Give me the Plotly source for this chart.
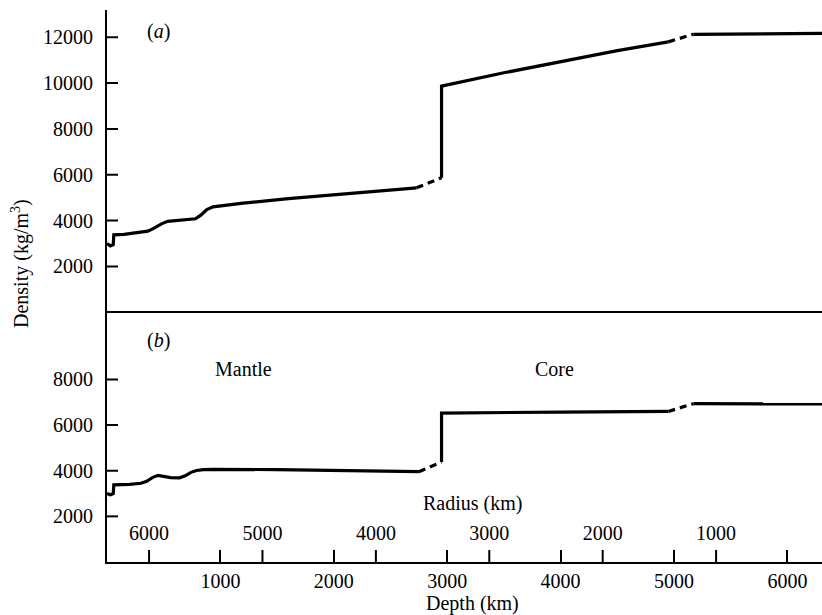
import plotly.graph_objects as go

# ---------------- data ----------------
# Panel (a)
a_mantle_depth = [0, 30, 55, 60, 150, 300, 360, 420, 480, 535, 650, 780, 830, 880, 935, 1200, 1600, 2000, 2400, 2730]
a_mantle_rho   = [3000, 2900, 2950, 3380, 3400, 3480, 3540, 3680, 3860, 3970, 4030, 4080, 4250, 4480, 4600, 4760, 4960, 5130, 5300, 5430]
a_trans1_depth = [2730, 2950]
a_trans1_rho   = [5430, 5870]
a_core_depth   = [2950, 2950, 3500, 4000, 4500, 4950]
a_core_rho     = [5870, 9870, 10450, 10950, 11420, 11800]
a_trans2_depth = [4950, 5170]
a_trans2_rho   = [11800, 12130]
a_inner_depth  = [5170, 6371]
a_inner_rho    = [12130, 12170]

# Panel (b)
b_mantle_depth = [0, 30, 55, 60, 200, 300, 350, 400, 450, 500, 560, 640, 690, 740, 790, 850, 950, 1500, 2000, 2400, 2750]
b_mantle_rho   = [3000, 2950, 3000, 3380, 3400, 3450, 3540, 3700, 3800, 3770, 3700, 3690, 3780, 3930, 4010, 4050, 4060, 4050, 4020, 3990, 3960]
b_trans1_depth = [2750, 2950]
b_trans1_rho   = [3960, 4380]
b_core_depth   = [2950, 2950, 4000, 4950]
b_core_rho     = [4380, 6530, 6570, 6600]
b_trans2_depth = [4950, 5170]
b_trans2_rho   = [6600, 6940]
b_inner_depth  = [5170, 6371]
b_inner_rho    = [6940, 6930]

depth_ticks = [1000, 2000, 3000, 4000, 5000, 6000]
radius_ticks = [6000, 5000, 4000, 3000, 2000, 1000]
earth_radius = 6371
rho_ticks_a = [2000, 4000, 6000, 8000, 10000, 12000]
rho_ticks_b = [2000, 4000, 6000, 8000]

FONT = "Liberation Serif"
X_RANGE = [0, 6305]
YA_RANGE = [44, 13190]
YB_RANGE = [0, 10990]
PLOT_W = 715.0
PLOT_H = 552.0

fig = go.Figure()

def seg(x, y, xa, ya, dash=None):
    fig.add_trace(go.Scatter(
        x=x, y=y, mode="lines", xaxis=xa, yaxis=ya, showlegend=False,
        hoverinfo="skip",
        line=dict(color="black", width=3.2, dash=dash if dash else "solid"),
    ))

DASH = "7px,5px"
seg(a_mantle_depth, a_mantle_rho, "x", "y")
seg(a_trans1_depth, a_trans1_rho, "x", "y", DASH)
seg(a_core_depth, a_core_rho, "x", "y")
seg(a_trans2_depth, a_trans2_rho, "x", "y", DASH)
seg(a_inner_depth, a_inner_rho, "x", "y")

seg(b_mantle_depth, b_mantle_rho, "x2", "y2")
seg(b_trans1_depth, b_trans1_rho, "x2", "y2", DASH)
seg(b_core_depth, b_core_rho, "x2", "y2")
seg(b_trans2_depth, b_trans2_rho, "x2", "y2", DASH)
seg(b_inner_depth, b_inner_rho, "x2", "y2")

# radius scale (labels) carried by an overlay axis
radius_depths = [earth_radius - r for r in radius_ticks]
fig.add_trace(go.Scatter(x=radius_depths, y=[None] * len(radius_ticks), mode="lines",
                         xaxis="x3", yaxis="y2", showlegend=False, hoverinfo="skip"))

split = 0.4542
TF = dict(family=FONT, size=20, color="black")
label_y = dict(showline=True, linewidth=2, linecolor="black", ticks="", showgrid=False,
               zeroline=False, tickfont=TF, ticklabelstandoff=8)

fig.update_layout(
    template="none",
    width=822, height=615,
    margin=dict(l=107, r=0, t=10, b=53),
    paper_bgcolor="white", plot_bgcolor="rgba(0,0,0,0)",
    font=TF,
    xaxis=dict(domain=[0, 1], anchor="y", range=X_RANGE, showline=True, linewidth=2,
               linecolor="black", showticklabels=False, ticks="", showgrid=False, zeroline=False),
    yaxis=dict(domain=[split, 1], anchor="x", range=YA_RANGE, tickmode="array",
               tickvals=rho_ticks_a, ticktext=[str(v) for v in rho_ticks_a], **label_y),
    xaxis2=dict(domain=[0, 1], anchor="y2", range=X_RANGE, showline=True, linewidth=2,
                linecolor="black", tickmode="array", tickvals=depth_ticks,
                ticktext=[str(v) for v in depth_ticks], ticks="inside", ticklen=12, tickwidth=2,
                tickcolor="black", showgrid=False, zeroline=False, tickfont=TF, layer="above traces"),
    xaxis3=dict(overlaying="x2", anchor="free", position=0, side="top", range=X_RANGE,
                tickmode="array", tickvals=radius_depths, ticktext=[str(r) for r in radius_ticks],
                ticks="outside", ticklen=12, tickwidth=2, tickcolor="rgba(0,0,0,0)",
                showline=False, showgrid=False, zeroline=False, tickfont=TF,
                ticklabelstandoff=2),
    yaxis2=dict(domain=[0, split], anchor="x2", range=YB_RANGE, tickmode="array",
                tickvals=rho_ticks_b, ticktext=[str(v) for v in rho_ticks_b], **label_y),
)

# inward-pointing density tick marks at the tick values (y through the data scales)
for yref, vals in (("y", rho_ticks_a), ("y2", rho_ticks_b)):
    for v in vals:
        fig.add_shape(type="line", xref="paper", yref=yref, layer="above",
                      x0=0, x1=11 / PLOT_W, y0=v, y1=v,
                      line=dict(color="black", width=2))

# upward radius tick marks on the bottom axis (x through the depth scale)
for d in radius_depths:
    fig.add_shape(type="line", xref="x2", yref="paper", layer="above",
                  x0=d, x1=d, y0=0, y1=12 / PLOT_H,
                  line=dict(color="black", width=2))

ann = [
    dict(text="(<i>a</i>)", x=450, y=12270, xref="x", yref="y"),
    dict(text="(<i>b</i>)", x=458, y=9715, xref="x2", yref="y2"),
    dict(text="Mantle", x=1208, y=8443, xref="x2", yref="y2"),
    dict(text="Core", x=3950, y=8443, xref="x2", yref="y2"),
    dict(text="Radius (km)", x=3220, y=2566, xref="x2", yref="y2"),
]
for a in ann:
    fig.add_annotation(showarrow=False, font=TF, **a)

fig.add_annotation(text="Depth (km)", x=(472 - 107) / PLOT_W, y=-(603 - 561.5) / PLOT_H,
                   xref="paper", yref="paper", showarrow=False, yanchor="middle",
                   font=TF)
fig.add_annotation(text="Density (kg/m<sup>3</sup>)", x=-(107 - 20) / PLOT_W, y=1 - (264 - 10) / PLOT_H,
                   xref="paper", yref="paper", showarrow=False, textangle=-90,
                   xanchor="center", yanchor="middle", font=TF)

fig.write_html("out.html")
